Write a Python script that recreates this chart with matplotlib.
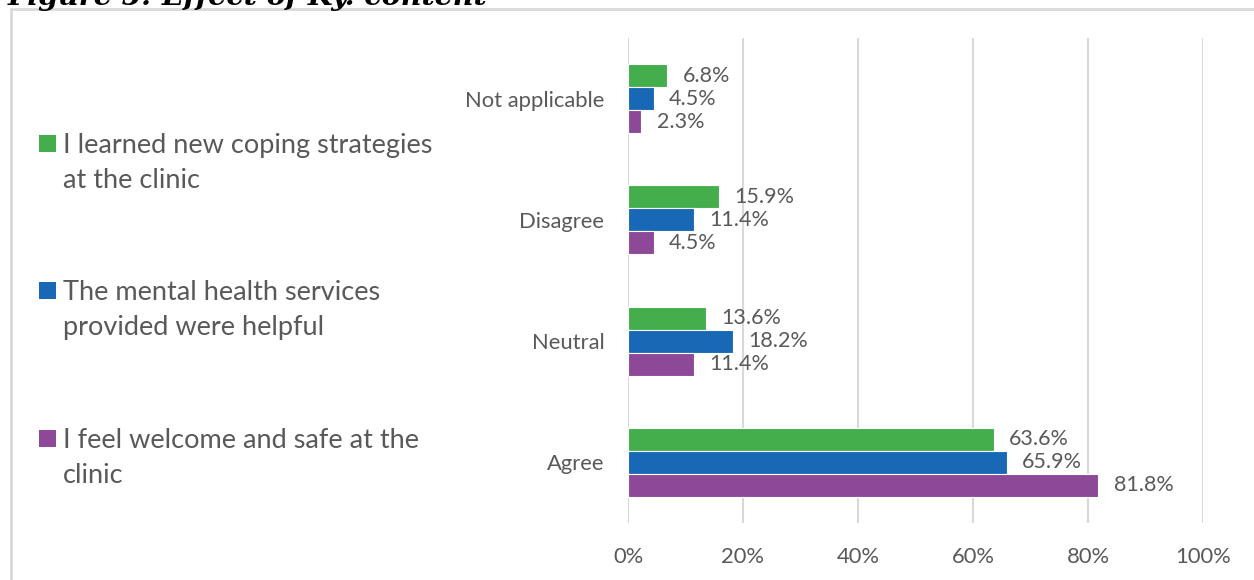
import matplotlib
matplotlib.use("Agg")
import matplotlib.pyplot as plt
from matplotlib.patches import Rectangle
import numpy as np

categories = ["Agree", "Neutral", "Disagree", "Not applicable"]
series_names = [
    ["I learned new coping strategies", "at the clinic"],
    ["The mental health services", "provided were helpful"],
    ["I feel welcome and safe at the", "clinic"],
]
coping = [63.6, 13.6, 15.9, 6.8]
helpful = [65.9, 18.2, 11.4, 4.5]
welcome = [81.8, 11.4, 4.5, 2.3]
series_values = [coping, helpful, welcome]
colors = ["#43AE4B", "#1868B5", "#8D4898"]
x_ticks = [0, 20, 40, 60, 80, 100]
x_tick_labels = ["0%", "20%", "40%", "60%", "80%", "100%"]
title = "Figure 5: Effect of Ky. content"

text_gray = "#595959"
grid_gray = "#D9D9D9"
plt.rcParams["font.family"] = ["Lato", "DejaVu Sans"]

W, H = 1254, 580
fig = plt.figure(figsize=(W / 100, H / 100), dpi=100)

# outer frame
fig.patches.append(Rectangle((11 / W, -0.2), 1.2, 1 - 9 / H + 0.2,
                             transform=fig.transFigure, fill=False,
                             edgecolor=grid_gray, linewidth=2, zorder=0))
# heading, running off the top edge
fig.text(8 / W, 1 - 5 / H, title, fontsize=20.5, family="DejaVu Serif",
         weight="bold", style="italic", ha="left", va="baseline",
         color="black")

ax = fig.add_axes([628 / W, 1 - 523 / H, 575 / W, 485 / H])
y = np.arange(len(categories))
bar_h = 0.19
offsets = [bar_h, 0.0, -bar_h]
for vals, off, col in zip(series_values, offsets, colors):
    bars = ax.barh(y + off, vals, height=bar_h, color=col, edgecolor="white",
                   linewidth=0.8, zorder=3)
    for b, v in zip(bars, vals):
        ax.annotate(f"{v:.1f}%", (b.get_width(), b.get_y() + b.get_height() / 2),
                    xytext=(11, 0), textcoords="offset points", ha="left",
                    va="center", fontsize=15.5, color=text_gray)

ax.set_xlim(0, 100)
ax.set_ylim(-0.5, len(categories) - 0.5)
ax.set_xticks(x_ticks)
ax.set_xticklabels(x_tick_labels)
ax.set_yticks(y)
ax.set_yticklabels(categories)
ax.tick_params(axis="both", length=0, labelsize=15.8, labelcolor=text_gray)
ax.tick_params(axis="x", pad=17)
ax.tick_params(axis="y", pad=17)
ax.xaxis.grid(True, color=grid_gray, linewidth=1.5, zorder=0)
ax.set_axisbelow(True)
for s in ax.spines.values():
    s.set_visible(False)

# legend on the left
leg_centers = [143.5, 291, 438.5]
for lines, col, cy in zip(series_names, colors, leg_centers):
    fig.patches.append(Rectangle((39 / W, 1 - (cy + 8.5) / H), 17 / W, 17 / H,
                                 transform=fig.transFigure, facecolor=col,
                                 edgecolor="none"))
    for i, line in enumerate(lines):
        fig.text(63 / W, 1 - (cy + 9.5 + 35 * i) / H, line, fontsize=19.5,
                 color=text_gray, ha="left", va="baseline")

fig.savefig("out.png", dpi=100, facecolor="white")
